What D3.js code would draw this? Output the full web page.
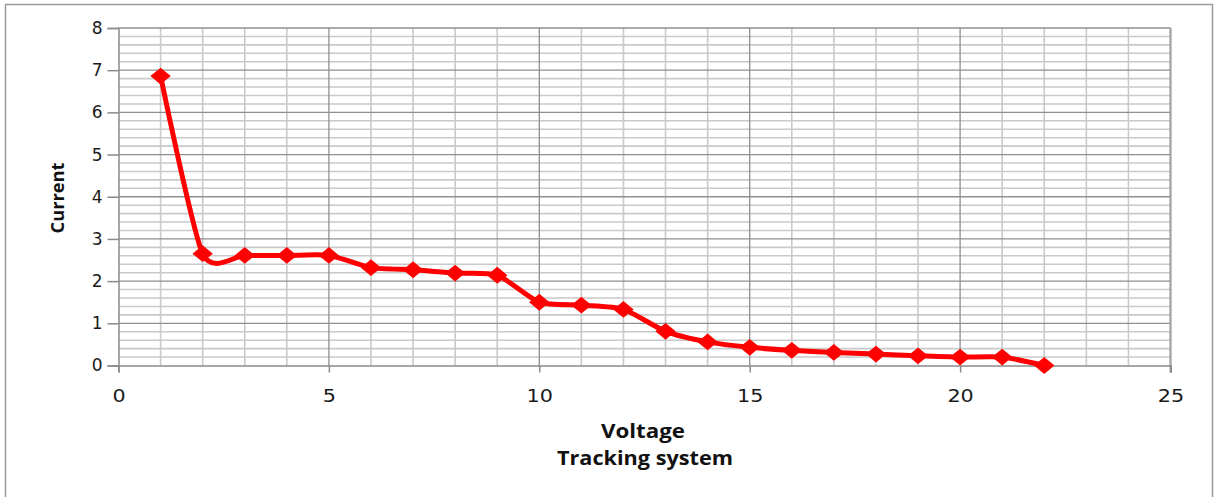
<!DOCTYPE html>
<html><head><meta charset="utf-8">
<script src="https://cdn.jsdelivr.net/npm/d3@7"></script>
<style>body{margin:0;background:#fff}svg{display:block}</style>
</head><body>
<svg id="c" width="1214" height="497"></svg>
<script>
const voltage = [1,2,3,4,5,6,7,8,9,10,11,12,13,14,15,16,17,18,19,20,21,22];
const current = [6.86,2.65,2.61,2.61,2.61,2.32,2.27,2.19,2.14,1.50,1.43,1.33,0.81,0.56,0.43,0.36,0.31,0.27,0.23,0.20,0.20,0.0];
const xTicks = [0,5,10,15,20,25];
const yTicks = [0,1,2,3,4,5,6,7,8];
const xTitle = "Voltage";
const subTitle = "Tracking  system";
const yTitle = "Current";

const svg = d3.select("#c");
svg.append("rect").attr("x",5.5).attr("y",4.5).attr("width",1207).attr("height",500)
  .attr("fill","#fff").attr("stroke","#9a9a9a").attr("stroke-width",1.5);

const x = d3.scaleLinear().domain([0,25]).range([118.5,1170.5]);
const y = d3.scaleLinear().domain([0,8]).range([365.5,28]);

const g = svg.append("g");
const minorY = d3.range(0,40).map(i=>i*0.2).filter(v=>Math.abs(v-Math.round(v))>1e-6);
g.selectAll(".hm").data(minorY).join("line")
  .attr("x1",x(0)).attr("x2",x(25)).attr("y1",d=>y(d)).attr("y2",d=>y(d))
  .attr("stroke","#c9c9c9").attr("stroke-width",1.6);
g.selectAll(".vm").data(d3.range(1,25).filter(v=>v%5!==0)).join("line")
  .attr("x1",d=>x(d)).attr("x2",d=>x(d)).attr("y1",y(0)).attr("y2",y(8))
  .attr("stroke","#c9c9c9").attr("stroke-width",1.6);
g.selectAll(".hM").data(yTicks.slice(1)).join("line")
  .attr("x1",x(0)).attr("x2",x(25)).attr("y1",d=>y(d)).attr("y2",d=>y(d))
  .attr("stroke","#8f8f8f").attr("stroke-width",1.3);
g.selectAll(".vM").data(xTicks.slice(1)).join("line")
  .attr("x1",d=>x(d)).attr("x2",d=>x(d)).attr("y1",y(0)).attr("y2",y(8))
  .attr("stroke","#8f8f8f").attr("stroke-width",1.3);
g.append("line").attr("x1",x(25)).attr("x2",x(25)).attr("y1",y(0)+7).attr("y2",y(8)).attr("stroke","#a0a0a0").attr("stroke-width",2);

const xAxis = d3.axisBottom(x).tickValues(xTicks).tickSize(7).tickPadding(14).tickFormat(d3.format("d"));
const yAxis = d3.axisLeft(y).tickValues(yTicks).tickSize(11).tickPadding(14).tickFormat(d3.format("d"));
const gx = svg.append("g").attr("transform",`translate(0,${y(0)})`).call(xAxis);
const gy = svg.append("g").attr("transform",`translate(${x(0)},0)`).call(yAxis);
[gx,gy].forEach(a=>{
  a.select(".domain").attr("stroke","#8a8a8a").attr("stroke-width",1.5);
  a.selectAll(".tick line").attr("stroke","#8a8a8a").attr("stroke-width",1.5);
  a.selectAll("text").attr("font-family","DejaVu Sans").attr("font-size",17).attr("fill","#1a1a1a");
});
gx.selectAll(".tick text").attr("dy","0.71em").attr("y",24).attr("transform","scale(1.22,1)");
gy.selectAll(".tick text").attr("x",-16);

const line = d3.line().x((d,i)=>x(voltage[i])).y(d=>y(d)).curve(d3.curveCardinal.tension(0.3));
svg.append("path").datum(current).attr("d",line).attr("fill","none")
  .attr("stroke","#ff0000").attr("stroke-width",5).attr("stroke-linejoin","round");
const diamond = d3.symbol().type(d3.symbolDiamond2).size(200);
svg.selectAll(".mk").data(current).join("path")
  .attr("d",diamond).attr("transform",(d,i)=>`translate(${x(voltage[i])},${y(d)}) scale(1.15,0.95)`)
  .attr("fill","#ff0000");

const tf = "Open Sans";
svg.append("text").attr("x",643).attr("y",438).attr("text-anchor","middle")
  .attr("font-family",tf).attr("font-weight","bold").attr("font-size",19).attr("fill","#111")
  .attr("textLength",84).attr("lengthAdjust","spacingAndGlyphs").text(xTitle);
svg.append("text").attr("x",645).attr("y",465).attr("text-anchor","middle")
  .attr("font-family",tf).attr("font-weight","bold").attr("font-size",19).attr("fill","#111")
  .attr("textLength",176).attr("lengthAdjust","spacingAndGlyphs").text(subTitle);
svg.append("text").attr("transform","translate(64,198) rotate(-90)").attr("text-anchor","middle")
  .attr("font-family",tf).attr("font-weight","bold").attr("font-size",17).attr("fill","#111")
  .attr("textLength",71).attr("lengthAdjust","spacingAndGlyphs").text(yTitle);
</script>
</body></html>
